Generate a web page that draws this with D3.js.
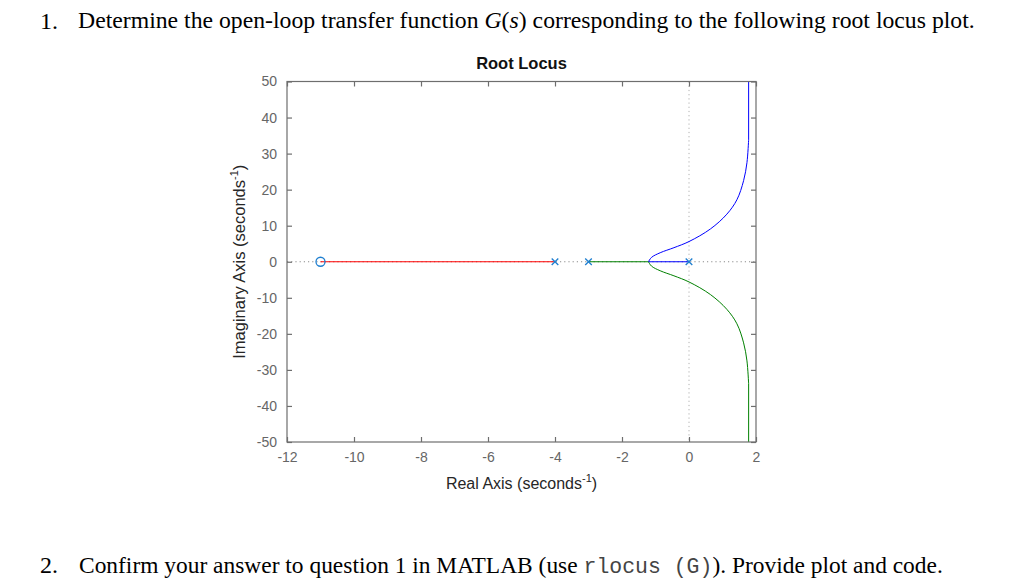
<!DOCTYPE html>
<html><head><meta charset="utf-8">
<script src="https://cdn.jsdelivr.net/npm/d3@7"></script>
<style>body{margin:0;background:#fff}svg{display:block}</style>
</head><body>
<svg id="c" width="1024" height="588"></svg>
<script>
// ---- data ----
const xTicks = [-12, -10, -8, -6, -4, -2, 0, 2];
const yTicks = [-50, -40, -30, -20, -10, 0, 10, 20, 30, 40, 50];
const poles = [0, -3, -4];
const zeros = [-11];
// real-axis segments of the locus [re, im]
const redBranch = [[-4, 0], [-11, 0]];
const greenAxisPart = [[-3, 0], [-1.21, 0]];
const blueAxisPart = [[0, 0], [-1.21, 0]];
// complex branches [re, im]
const blueCurve = [[-1.21, 0], [-1.12, 1.2], [-0.86, 2.5], [-0.45, 3.9], [0, 5.6], [0.64, 9.1], [1.13, 13.2], [1.43, 17.2], [1.63, 22.5], [1.73, 27.5], [1.78, 33.8]];
const blueTail = [[1.78, 33.8], [1.78, 60]];
const greenCurve = [[-1.21, 0], [-1.12, -1.2], [-0.86, -2.5], [-0.45, -3.9], [0, -5.6], [0.64, -9.1], [1.13, -13.2], [1.43, -17.2], [1.63, -22.5], [1.73, -27.5], [1.78, -33.8]];
const greenTail = [[1.78, -33.8], [1.78, -60]];

const title = "Root Locus";
const xLabel = "Real Axis (seconds";
const yLabel = "Imaginary Axis (seconds";

// ---- layout ----
const svg = d3.select("#c");
const L = 287, R = 756, T = 81.5, B = 442;
const x = d3.scaleLinear().domain([-12, 2]).range([L, R]);
const y = d3.scaleLinear().domain([-50, 50]).range([B, T]);

// question texts
function fitText(g, targetRight) {
  const bb = g.node().getBBox();
  const x0 = bb.x;
  const s = (targetRight - x0) / bb.width;
  g.attr("transform", `translate(${x0},0) scale(${s},1) translate(${-x0},0)`);
}
const serif = "'Liberation Serif','Times New Roman',serif";
svg.append("text").attr("x", 40).attr("y", 28.5).attr("font-family", serif).attr("font-size", 24).text("1.");
const q1 = svg.append("g");
const t1 = q1.append("text").attr("x", 78).attr("y", 28.5).attr("font-family", serif).attr("font-size", 24);
t1.append("tspan").text("Determine the open-loop transfer function ");
t1.append("tspan").attr("font-style", "italic").text("G");
t1.append("tspan").text("(");
t1.append("tspan").attr("font-style", "italic").text("s");
t1.append("tspan").text(") corresponding to the following root locus plot.");
fitText(q1, 975);

svg.append("text").attr("x", 40).attr("y", 573).attr("font-family", serif).attr("font-size", 24).text("2.");
const q2 = svg.append("g");
const t2 = q2.append("text").attr("x", 79).attr("y", 573).attr("font-family", serif).attr("font-size", 24);
t2.append("tspan").text("Confirm your answer to question 1 in MATLAB (use ");
t2.append("tspan").attr("font-family", "'Liberation Mono','Courier New',monospace").attr("font-size", 22).attr("fill", "#444").text("rlocus (G)");
t2.append("tspan").text("). Provide plot and code.");
fitText(q2, 943);

// clip
svg.append("clipPath").attr("id", "pc").append("rect").attr("x", L).attr("y", T).attr("width", R - L).attr("height", B - T);
const plot = svg.append("g").attr("clip-path", "url(#pc)");

// dotted reference lines
plot.append("line").attr("x1", L).attr("x2", R).attr("y1", y(0)).attr("y2", y(0))
  .attr("stroke", "#8c8c8c").attr("stroke-width", 1).attr("stroke-dasharray", "1.2,3");
plot.append("line").attr("x1", x(0)).attr("x2", x(0)).attr("y1", T).attr("y2", B)
  .attr("stroke", "#b0b0b0").attr("stroke-width", 1).attr("stroke-dasharray", "1.2,3");

const lin = d3.line().x(d => x(d[0])).y(d => y(d[1]));
const smooth = d3.line().x(d => x(d[0])).y(d => y(d[1])).curve(d3.curveCatmullRom.alpha(0.5));
const BLUE = "#0000ff", GREEN = "#008000", RED = "#ff0000";
plot.append("path").attr("d", lin(redBranch)).attr("stroke", RED).attr("fill", "none").attr("stroke-width", 1);
plot.append("path").attr("d", lin(greenAxisPart)).attr("stroke", GREEN).attr("fill", "none").attr("stroke-width", 1);
plot.append("path").attr("d", lin(blueAxisPart)).attr("stroke", BLUE).attr("fill", "none").attr("stroke-width", 1);
plot.append("path").attr("d", smooth(blueCurve)).attr("stroke", BLUE).attr("fill", "none").attr("stroke-width", 1);
plot.append("path").attr("d", lin(blueTail)).attr("stroke", BLUE).attr("fill", "none").attr("stroke-width", 1);
plot.append("path").attr("d", smooth(greenCurve)).attr("stroke", GREEN).attr("fill", "none").attr("stroke-width", 1);
plot.append("path").attr("d", lin(greenTail)).attr("stroke", GREEN).attr("fill", "none").attr("stroke-width", 1);

// markers
const MK = "#1f7fd0";
const ms = 3.3;
poles.forEach(p => {
  const cx = x(p), cy = y(0);
  svg.append("path").attr("d", `M${cx - ms},${cy - ms}L${cx + ms},${cy + ms}M${cx - ms},${cy + ms}L${cx + ms},${cy - ms}`)
    .attr("stroke", MK).attr("stroke-width", 1.3).attr("fill", "none");
});
zeros.forEach(z => {
  svg.append("circle").attr("cx", x(z)).attr("cy", y(0)).attr("r", 4.5)
    .attr("stroke", MK).attr("stroke-width", 1.3).attr("fill", "none");
});

// axes box and ticks
const AX = "#6e6e6e";
const tickLen = 5;
svg.append("rect").attr("x", L).attr("y", T).attr("width", R - L).attr("height", B - T)
  .attr("fill", "none").attr("stroke", AX).attr("stroke-width", 1.2);
const fmt = d => String(d);
const bottomAxis = d3.axisBottom(x).tickValues(xTicks).tickSizeInner(-tickLen).tickSizeOuter(0).tickPadding(10).tickFormat(fmt);
const topAxis = d3.axisTop(x).tickValues(xTicks).tickSizeInner(-tickLen).tickSizeOuter(0).tickFormat("");
const leftAxis = d3.axisLeft(y).tickValues(yTicks).tickSizeInner(-tickLen).tickSizeOuter(0).tickPadding(10).tickFormat(fmt);
const rightAxis = d3.axisRight(y).tickValues(yTicks).tickSizeInner(-tickLen).tickSizeOuter(0).tickFormat("");
function styleAxis(g) {
  g.select(".domain").remove();
  g.selectAll(".tick line").attr("stroke", AX).attr("stroke-width", 1.2);
  g.selectAll(".tick text").attr("fill", "#666").attr("font-family", "'Liberation Sans',Arial,sans-serif").attr("font-size", 14);
}
svg.append("g").attr("transform", `translate(0,${B})`).call(bottomAxis).call(styleAxis);
svg.append("g").attr("transform", `translate(0,${T})`).call(topAxis).call(styleAxis);
svg.append("g").attr("transform", `translate(${L},0)`).call(leftAxis).call(styleAxis);
svg.append("g").attr("transform", `translate(${R},0)`).call(rightAxis).call(styleAxis);

// titles
const sans = "'Liberation Sans',Arial,sans-serif";
svg.append("text").attr("x", (L + R) / 2).attr("y", 69).attr("text-anchor", "middle")
  .attr("font-family", sans).attr("font-weight", "bold").attr("font-size", 16.5).attr("fill", "#111").text(title);
const xl = svg.append("text").attr("x", (L + R) / 2).attr("y", 489).attr("text-anchor", "middle")
  .attr("font-family", sans).attr("font-size", 16).attr("fill", "#262626");
xl.append("tspan").text(xLabel);
xl.append("tspan").attr("font-size", 11).attr("dy", -7).text("-1");
xl.append("tspan").attr("dy", 7).text(")");
const yl = svg.append("text").attr("transform", `translate(245,${(T + B) / 2}) rotate(-90)`).attr("text-anchor", "middle")
  .attr("font-family", sans).attr("font-size", 16.5).attr("fill", "#262626");
yl.append("tspan").text(yLabel);
yl.append("tspan").attr("font-size", 11).attr("dy", -7).text("-1");
yl.append("tspan").attr("dy", 7).text(")");
</script>
</body></html>
